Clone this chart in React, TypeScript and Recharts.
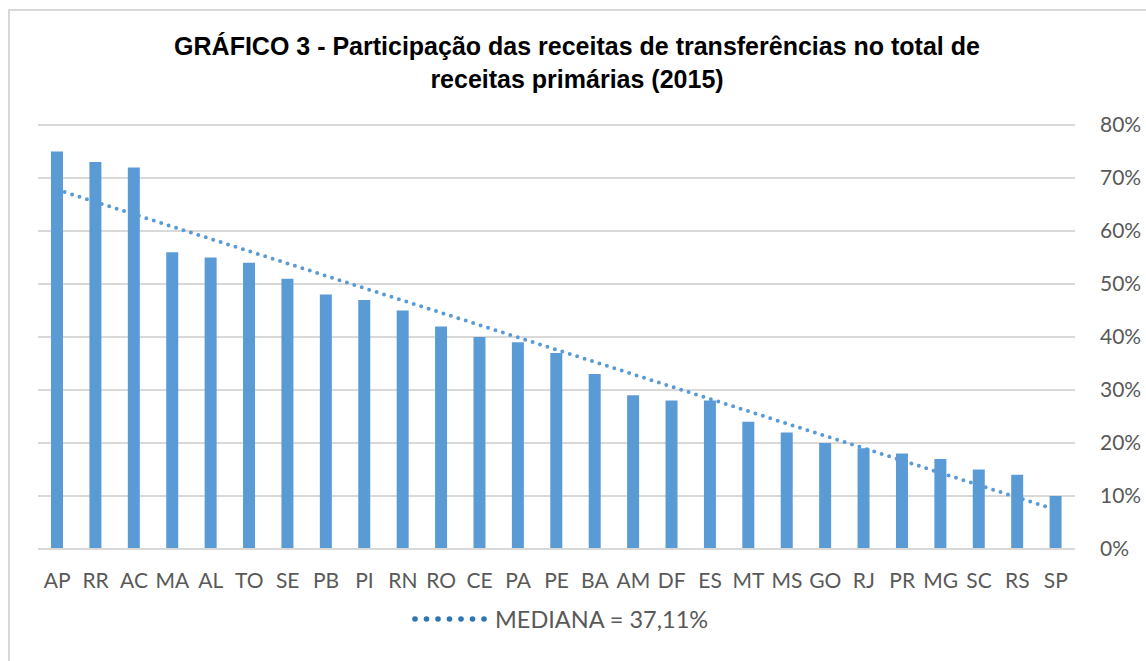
import React from 'react';
import { ComposedChart, Bar, Line, XAxis, YAxis, CartesianGrid } from 'recharts';

// estados, ordenados pela participação
const states = ['AP', 'RR', 'AC', 'MA', 'AL', 'TO', 'SE', 'PB', 'PI', 'RN', 'RO', 'CE', 'PA', 'PE', 'BA', 'AM', 'DF', 'ES', 'MT', 'MS', 'GO', 'RJ', 'PR', 'MG', 'SC', 'RS', 'SP'];
const shares = [75, 73, 72, 56, 55, 54, 51, 48, 47, 45, 42, 40, 39, 37, 33, 29, 28, 28, 24, 22, 20, 19, 18, 17, 15, 14, 10];
// linha de tendência: só os extremos (AP e SP)
const trendStart = 67.8;
const trendEnd = 7.4;
const yTicks = [0, 10, 20, 30, 40, 50, 60, 70, 80];
const legendLabel = 'MEDIANA = 37,11%';

const BLUE = '#5b9bd5';
const GRID = '#d9d9d9';
const TEXT = '#595959';
const FONT = 'Lato, "Open Sans", sans-serif';

const data = states.map((uf, i) => ({
  uf,
  share: shares[i],
  trend: i === 0 ? trendStart : i === states.length - 1 ? trendEnd : null,
}));

export default function App() {
  return (
    <div style={{ position: 'absolute', left: 0, top: 0, width: 1146, height: 661, overflow: 'hidden', background: '#fff' }}>
      <div
        style={{
          position: 'absolute',
          left: 8,
          top: 9,
          width: 1200,
          height: 720,
          border: `2px solid ${GRID}`,
          boxSizing: 'border-box',
        }}
      />
      <div
        style={{
          position: 'absolute',
          left: 0,
          top: 30,
          width: 1154,
          textAlign: 'center',
          fontFamily: '"Liberation Sans", Arial, sans-serif',
          fontWeight: 'bold',
          fontSize: 25,
          lineHeight: '33px',
          color: '#000',
        }}
      >
        GRÁFICO 3 - Participação das receitas de transferências no total de
        <br />
        receitas primárias (2015)
      </div>
      <div style={{ position: 'absolute', left: 0, top: 0 }}>
        <ComposedChart
          width={1146}
          height={661}
          data={data}
          margin={{ top: 125, right: 11, left: 38, bottom: 72 }}
          barCategoryGap={0}
        >
          <CartesianGrid vertical={false} stroke={GRID} strokeWidth={2} />
          <XAxis
            dataKey="uf"
            axisLine={{ stroke: GRID, strokeWidth: 2 }}
            tickLine={false}
            tickMargin={18}
            height={40}
            interval={0}
            tick={{ fill: TEXT, fontSize: 21, fontFamily: FONT }}
          />
          <YAxis
            orientation="right"
            domain={[0, 80]}
            ticks={yTicks}
            tickFormatter={(v: number) => `${v}%`}
            axisLine={false}
            tickLine={false}
            tickMargin={19}
            width={60}
            tick={{ fill: TEXT, fontSize: 21, fontFamily: FONT }}
          />
          <Bar dataKey="share" fill={BLUE} barSize={12} isAnimationActive={false} />
          <Line
            dataKey="trend"
            connectNulls
            dot={false}
            activeDot={false}
            stroke={BLUE}
            strokeWidth={4}
            strokeLinecap="round"
            strokeDasharray="0 7.8"
            isAnimationActive={false}
          />
        </ComposedChart>
      </div>
      <div
        style={{
          position: 'absolute',
          left: 410,
          top: 604,
          display: 'flex',
          alignItems: 'center',
          fontFamily: FONT,
          fontSize: 23.5,
          color: TEXT,
          height: 30,
        }}
      >
        <svg width={78} height={12} style={{ marginRight: 7 }}>
          {[0, 1, 2, 3, 4, 5, 6].map((k) => (
            <circle key={k} cx={5 + k * 11.5} cy={6} r={2.8} fill="#2e75b6" />
          ))}
        </svg>
        <span>{legendLabel}</span>
      </div>
    </div>
  );
}
